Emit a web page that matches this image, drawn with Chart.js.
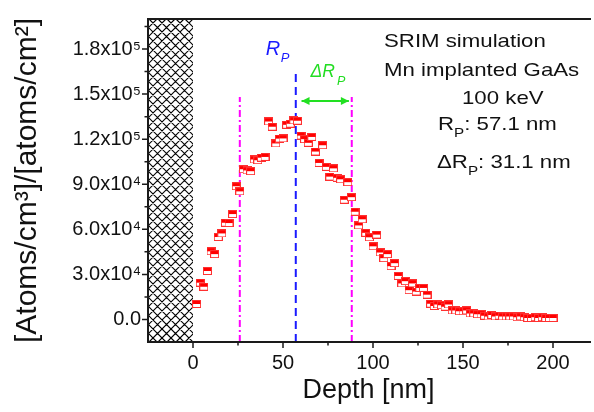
<!DOCTYPE html>
<html>
<head>
<meta charset="utf-8">
<script src="https://cdn.jsdelivr.net/npm/chart.js@4.4.0/dist/chart.umd.min.js"></script>
<style>
  html, body { margin: 0; padding: 0; background: #fff; }
  #wrap { width: 594px; height: 412px; }
</style>
</head>
<body>
<div id="wrap"><canvas id="chart"></canvas></div>
<script>
// SRIM profile, Mn in GaAs, 100 keV
const depth = [
  2, 4, 6, 8, 10, 12, 14, 16, 18, 20, 22, 24, 26, 28, 30, 32, 34, 36, 38, 40,
  42, 44, 46, 48, 50, 52, 54, 56, 58, 60, 62, 64, 66, 68, 70, 72, 74, 76, 78, 80,
  82, 84, 86, 88, 90, 92, 94, 96, 98, 100, 102, 104, 106, 108, 110, 112, 114, 116, 118, 120,
  122, 124, 126, 128, 130, 132, 134, 136, 138, 140, 142, 144, 146, 148, 150, 152, 154, 156, 158, 160,
  162, 164, 166, 168, 170, 172, 174, 176, 178, 180, 182, 184, 186, 188, 190, 192, 194, 196, 198, 200
];
const conc = [
  10300, 24500, 21800, 32300, 45400, 43500, 54900, 57300, 64400, 64200,
  70200, 88700, 85300, 100000, 99200, 98700, 106500, 106000, 107700, 108200,
  131800, 128300, 117200, 120400, 120500, 129600, 130300, 132500, 132300, 122400,
  120000, 117600, 121500, 111800, 104200, 116000, 101600, 95100, 100600, 94300,
  93300, 79700, 91400, 81400, 71700, 62600, 66700, 57700, 54700, 48700,
  56500, 44600, 40800, 43500, 35500, 37500, 29000, 24000, 25500, 19500,
  24000, 18600, 21000, 21000, 16500, 10500, 9000, 10000, 9500, 8500,
  10000, 6000, 6000, 5500, 5500, 6000, 4000, 4000, 3500, 3500,
  2500, 2000, 3000, 2000, 2500, 2000, 2000, 2000, 2000, 1500,
  2000, 1500, 1000, 1000, 1500, 1000, 1500, 1000, 1000, 1000
];

const xTickValues = [0, 50, 100, 150, 200];
const xMinorTicks = [25, 75, 125, 175];
const yTickValues = [0, 30000, 60000, 90000, 120000, 150000, 180000];
const yTickLabels = ['0.0', '3.0x10⁴', '6.0x10⁴', '9.0x10⁴', '1.2x10⁵', '1.5x10⁵', '1.8x10⁵'];
const yMinorTicks = [15000, 45000, 75000, 105000, 135000, 165000, 195000];

const rp = 57.1;
const dRp = 31.1;
const rangeLines = [rp - dRp, rp + dRp];
const rangeTop = 148000;
const rpTop = 164000;
const arrowSpan = [60.3, 86.6];
const arrowY = 145500;
const substrate = [-25, 0];

const FONT = "'Liberation Sans', Arial, sans-serif";

function halfUpSquare() {
  const c = document.createElement('canvas');
  c.width = 9; c.height = 8;
  const g = c.getContext('2d');
  g.fillStyle = '#ffffff';
  g.fillRect(0, 0, 9, 8);
  g.fillStyle = '#ff0000';
  g.fillRect(0, 0, 9, 4);
  g.strokeStyle = '#ff3030';
  g.lineWidth = 1;
  g.strokeRect(0.5, 0.5, 8, 7);
  return c;
}

const extras = {
  id: 'extras',
  beforeDatasetsDraw(chart) {
    const {ctx, chartArea: a, scales: {x}} = chart;
    const x0 = x.getPixelForValue(substrate[0]);
    const x1 = x.getPixelForValue(substrate[1]);
    ctx.save();
    ctx.beginPath();
    ctx.rect(x0, a.top, x1 - x0, a.bottom - a.top);
    ctx.clip();
    ctx.strokeStyle = '#000';
    ctx.lineWidth = 1.2;
    const h = a.bottom - a.top;
    ctx.beginPath();
    for (let k = -h; k < (x1 - x0) + h; k += 9) {
      ctx.moveTo(x0 + k, a.top);
      ctx.lineTo(x0 + k + h, a.bottom);
      ctx.moveTo(x0 + k, a.bottom);
      ctx.lineTo(x0 + k + h, a.top);
    }
    ctx.stroke();
    ctx.restore();
  },
  afterDatasetsDraw(chart) {
    const {ctx, chartArea: a, scales: {x, y}} = chart;
    ctx.save();

    // arrow heads
    const ay = y.getPixelForValue(arrowY);
    const ax0 = x.getPixelForValue(arrowSpan[0]);
    const ax1 = x.getPixelForValue(arrowSpan[1]);
    ctx.fillStyle = '#22e022';
    ctx.beginPath();
    ctx.moveTo(ax0, ay); ctx.lineTo(ax0 + 8, ay - 4); ctx.lineTo(ax0 + 8, ay + 4); ctx.closePath();
    ctx.moveTo(ax1, ay); ctx.lineTo(ax1 - 8, ay - 4); ctx.lineTo(ax1 - 8, ay + 4); ctx.closePath();
    ctx.fill();

    // R_P label
    const xr = x.getPixelForValue(rp);
    ctx.fillStyle = '#1a1aff';
    ctx.textBaseline = 'alphabetic';
    ctx.font = 'italic 20px ' + FONT;
    ctx.fillText('R', xr - 30, 55);
    ctx.font = 'italic 13px ' + FONT;
    ctx.fillText('P', xr - 15, 62);

    // dR_P label
    ctx.fillStyle = '#22dd22';
    ctx.font = 'italic 17.5px ' + FONT;
    ctx.fillText('ΔR', ax0 + 9, 77);
    const w = ctx.measureText('ΔR').width;
    ctx.font = 'italic 12.5px ' + FONT;
    ctx.fillText('P', ax0 + 9 + w + 2, 85);

    // text block
    const stretched = (t, px, py, size) => {
      ctx.save();
      ctx.font = size + 'px ' + FONT;
      ctx.translate(px, py);
      ctx.scale(1.17, 1);
      ctx.fillText(t, 0, 0);
      const tw = ctx.measureText(t).width * 1.17;
      ctx.restore();
      return tw;
    };
    ctx.fillStyle = '#111';
    stretched('SRIM simulation', 384, 47, 19);
    stretched('Mn implanted GaAs', 384, 76, 19);
    stretched('100 keV', 462, 104, 19);
    let px = 438;
    px += stretched('R', px, 130, 19);
    px += stretched('P', px, 137, 13);
    stretched(': 57.1 nm', px, 130, 19);
    px = 437;
    px += stretched('ΔR', px, 168, 19);
    px += stretched('P', px, 175, 13);
    stretched(': 31.1 nm', px, 168, 19);

    // frame (left, top, bottom; right edge falls outside the picture)
    ctx.strokeStyle = '#1a1a1a';
    ctx.lineWidth = 2;
    ctx.beginPath();
    ctx.moveTo(a.right + 2, a.top);
    ctx.lineTo(a.left, a.top);
    ctx.lineTo(a.left, a.bottom);
    ctx.lineTo(a.right + 2, a.bottom);
    ctx.stroke();

    // tick marks
    ctx.lineWidth = 1.5;
    ctx.beginPath();
    xTickValues.forEach(v => { const p = x.getPixelForValue(v); ctx.moveTo(p, a.bottom); ctx.lineTo(p, a.bottom + 6); });
    xMinorTicks.forEach(v => { const p = x.getPixelForValue(v); ctx.moveTo(p, a.bottom); ctx.lineTo(p, a.bottom + 3.5); });
    yTickValues.forEach(v => { const p = y.getPixelForValue(v); ctx.moveTo(a.left, p); ctx.lineTo(a.left - 6, p); });
    yMinorTicks.forEach(v => { const p = y.getPixelForValue(v); ctx.moveTo(a.left, p); ctx.lineTo(a.left - 3.5, p); });
    ctx.stroke();
    ctx.restore();
  }
};

const vline = (xv, top, color, dash) => ({
  data: [{x: xv, y: -15000}, {x: xv, y: top}],
  showLine: true,
  borderColor: color,
  borderWidth: 2,
  borderDash: dash,
  pointRadius: 0,
  order: 2
});

new Chart(document.getElementById('chart'), {
  type: 'scatter',
  data: {
    datasets: [
      {
        data: depth.map((d, i) => ({x: d, y: conc[i]})),
        pointStyle: halfUpSquare(),
        pointRadius: 4,
        order: 0
      },
      vline(rangeLines[0], rangeTop, '#ff00ff', [7, 3, 2, 3]),
      vline(rangeLines[1], rangeTop, '#ff00ff', [7, 3, 2, 3]),
      vline(rp, rpTop, '#1a1aff', [8, 5]),
      {
        data: [{x: arrowSpan[0], y: arrowY}, {x: arrowSpan[1], y: arrowY}],
        showLine: true,
        borderColor: '#22e022',
        borderWidth: 2,
        pointRadius: 0,
        order: 1
      }
    ]
  },
  options: {
    responsive: true,
    maintainAspectRatio: false,
    animation: false,
    events: [],
    layout: { padding: { top: 7, left: 0, right: 0, bottom: 0 } },
    plugins: { legend: { display: false }, tooltip: { enabled: false } },
    scales: {
      x: {
        type: 'linear',
        min: -25,
        max: 220,
        grid: { display: false, drawTicks: false },
        border: { display: false },
        afterBuildTicks: s => { s.ticks = xTickValues.map(v => ({value: v})); },
        afterFit: s => { s.height = 70; },
        ticks: {
          padding: 9,
          color: '#111',
          font: { family: FONT, size: 20 },
          callback: v => String(v)
        },
        title: {
          display: true,
          text: 'Depth [nm]',
          color: '#111',
          font: { family: FONT, size: 27 },
          padding: { top: 0, bottom: 5 }
        }
      },
      y: {
        type: 'linear',
        min: -15000,
        max: 200000,
        grid: { display: false, drawTicks: false },
        border: { display: false },
        afterBuildTicks: s => { s.ticks = yTickValues.map(v => ({value: v})); },
        afterFit: s => { s.width = 148; },
        ticks: {
          padding: 7,
          color: '#111',
          font: { family: FONT, size: 20 },
          callback: v => yTickLabels[yTickValues.indexOf(v)]
        },
        title: {
          display: true,
          text: '[Atoms/cm³]/[atoms/cm²]',
          color: '#111',
          font: { family: FONT, size: 30 },
          padding: { top: 10, bottom: 0 }
        }
      }
    }
  },
  plugins: [extras]
});
</script>
</body>
</html>
